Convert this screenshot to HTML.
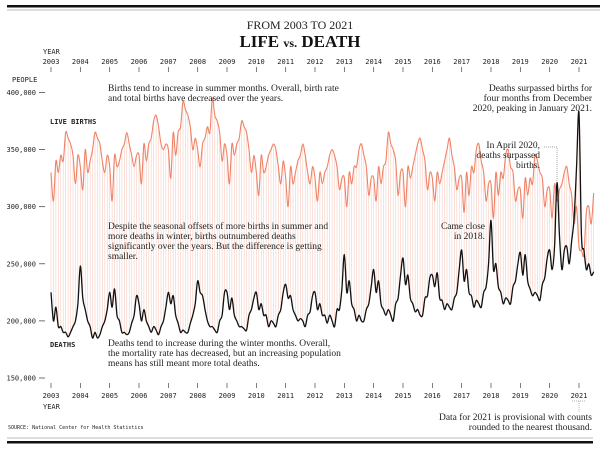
<!DOCTYPE html>
<html><head><meta charset="utf-8"><style>
body{margin:0;background:#fff;}
svg{display:block;}
.mono{font-family:"DejaVu Sans Mono","Liberation Mono",monospace;font-size:7px;fill:#222;}
.serif{font-family:"Liberation Serif",serif;font-size:9.5px;fill:#222;}
</style></head><body>
<svg id="chart" width="600" height="449" viewBox="0 0 600 449" xmlns="http://www.w3.org/2000/svg">
<rect x="0" y="0" width="600" height="449" fill="#fff"/>
<rect x="7" y="5" width="593" height="2.5" fill="#111"/>
<rect x="7" y="9.5" width="593" height="1" fill="#bbb"/>
<rect x="7" y="437.5" width="586" height="1" fill="#bbb"/>
<rect x="7" y="441" width="586" height="2.5" fill="#111"/>
<text x="300" y="29" text-anchor="middle" style="font-family:'Liberation Serif',serif;font-size:12px;fill:#222">FROM 2003 TO 2021</text>
<text x="300" y="47" text-anchor="middle" style="font-family:'Liberation Serif',serif;font-size:17px;font-weight:bold;fill:#111">LIFE <tspan style="font-size:12px">vs.</tspan> DEATH</text>
<text class="mono" x="43" y="54">YEAR</text>
<text class="mono" x="43" y="409">YEAR</text>
<text class="mono" x="12" y="82">PEOPLE</text>
<text class="mono" x="50" y="124" style="font-weight:bold">LIVE BIRTHS</text>
<text class="mono" x="50" y="347" style="font-weight:bold">DEATHS</text>
<g id="plot"></g>
<g class="serif"><text x="108" y="91">Births tend to increase in summer months. Overall, birth rate</text><text x="108" y="101">and total births have decreased over the years.</text></g>
<g class="serif"><text x="108" y="229">Despite the seasonal offsets of more births in summer and</text><text x="108" y="239">more deaths in winter, births outnumbered deaths</text><text x="108" y="249">significantly over the years. But the difference is getting</text><text x="108" y="259">smaller.</text></g>
<g class="serif"><text x="108" y="346">Deaths tend to increase during the winter months. Overall,</text><text x="108" y="356">the mortality rate has decreased, but an increasing population</text><text x="108" y="366">means has still meant more total deaths.</text></g>
<g class="serif" text-anchor="end"><text x="592" y="91">Deaths surpassed births for</text><text x="592" y="101">four months from December</text><text x="592" y="111">2020, peaking in January 2021.</text></g>
<g class="serif" text-anchor="end"><text x="540" y="148">In April 2020,</text><text x="540" y="158">deaths surpassed</text><text x="540" y="168">births.</text></g>
<path d="M544,147 H557 V182" stroke="#888" stroke-width="0.7" stroke-dasharray="1,1" fill="none"/>
<g class="serif" text-anchor="end"><text x="485" y="229">Came close</text><text x="485" y="239">in 2018.</text></g>
<g class="serif" text-anchor="end"><text x="592" y="420">Data for 2021 is provisional with counts</text><text x="592" y="430">rounded to the nearest thousand.</text></g>
<path d="M572,401 H586 M579,401 V412" stroke="#999" stroke-width="0.7" stroke-dasharray="1,1" fill="none"/>
<text class="mono" x="8" y="429" style="font-size:5px">SOURCE: National Center for Health Statistics</text>
</svg>
<script>
// values in thousands, monthly Jan 2003 ..
const years = [2003,2004,2005,2006,2007,2008,2009,2010,2011,2012,2013,2014,2015,2016,2017,2018,2019,2020,2021];
const yTicks = [400000,350000,300000,250000,200000,150000];
const births = [
330,305,340,330,345,340,365,360,355,345,320,345,
335,315,350,330,340,350,365,360,355,340,330,345,
335,305,345,335,340,350,355,365,355,345,335,345,
345,320,355,340,355,360,375,380,370,355,350,355,
350,325,365,345,365,370,392,385,380,370,350,360,
350,335,355,360,370,365,395,380,375,365,340,355,
345,320,355,345,355,360,375,370,365,350,330,345,
330,310,345,330,335,345,350,355,350,335,320,340,
325,300,335,320,330,340,345,355,345,330,320,335,
325,305,330,320,330,335,345,350,345,335,315,325,
325,300,330,320,335,335,350,355,345,335,310,325,
325,305,335,320,335,340,365,355,350,340,310,330,
330,300,335,325,335,345,355,360,350,340,315,330,
325,305,330,320,330,340,350,360,345,335,315,325,
325,295,330,310,335,330,350,355,340,330,305,320,
320,290,330,310,330,325,345,350,335,330,305,315,
315,290,325,310,325,320,345,340,330,325,300,315,
315,290,320,305,315,320,330,335,320,310,285,300,
265,262,258,295,300,285,312];
const deaths = [
225,200,212,195,195,190,190,186,190,195,200,215,
248,220,210,200,195,185,190,185,188,195,200,210,
225,212,228,205,200,190,190,188,190,198,205,222,
215,200,210,200,195,190,195,192,188,195,200,212,
225,215,222,205,198,190,192,190,190,198,205,215,
235,225,222,210,200,195,195,192,190,200,205,225,
225,210,220,205,200,195,195,193,192,205,210,220,
225,210,215,205,205,195,200,198,195,205,210,225,
232,220,222,210,205,200,202,200,195,205,208,222,
225,210,215,205,205,198,205,200,195,210,210,228,
258,225,235,215,210,200,205,200,200,210,215,230,
245,225,235,215,210,205,210,205,200,215,220,240,
255,232,240,220,215,208,210,205,205,220,222,238,
240,230,242,220,218,210,215,212,210,220,225,245,
262,235,245,225,222,212,218,215,212,225,230,250,
288,245,250,230,225,215,220,218,215,230,235,250,
260,240,258,235,228,222,225,222,218,232,238,255,
262,245,265,321,275,245,262,265,250,270,290,335,
382,275,262,245,250,240,243];
const x0=51, xStep=(579-51)/216;
const xScale = i => x0 + i*xStep;
const yScale = v => 92.5 + (400000 - v)/50000*57.1;
const NS='http://www.w3.org/2000/svg';
const plot=document.getElementById('plot');
function mk(tag,attrs,parent){const e=document.createElementNS(NS,tag);for(const k in attrs)e.setAttribute(k,attrs[k]);(parent||plot).appendChild(e);return e;}
yTicks.forEach(v=>{
  const t=mk('text',{x:36,y:yScale(v)+2.5,'text-anchor':'end',class:'mono'});
  
  
  t.textContent=v.toLocaleString('en-US');
  const l=mk('line',{x1:39,x2:45,y1:yScale(v),y2:yScale(v),stroke:'#333','stroke-width':0.7});
  
  
});
years.forEach((yr,k)=>{
  const x=xScale(k*12);
  [[64,67,72],[398,383,388]].forEach(([ty,a,b])=>{
    const t=mk('text',{x:x,y:ty,'text-anchor':'middle',class:'mono'});
    
    
    t.textContent=yr;
    const l=mk('line',{x1:x,x2:x,y1:a,y2:b,stroke:'#444','stroke-width':0.7});
    
    
  });
});
births.forEach((b,i)=>{
  const d=deaths[i]; if(d===undefined)return;
  const l=mk('line',{x1:xScale(i),x2:xScale(i),y1:yScale(b*1000),y2:yScale(d*1000),stroke:'#f5b8a8','stroke-width':0.6,opacity:0.7});
  
  
});
function smooth(arr){
  const p=arr.map((v,i)=>[xScale(i),yScale(v*1000)]);
  let d='M'+p[0][0]+','+p[0][1];
  for(let i=0;i<p.length-1;i++){
    const a=p[i-1]||p[i],b=p[i],c=p[i+1],e=p[i+2]||c;
    d+=' C'+(b[0]+(c[0]-a[0])/6)+','+(b[1]+(c[1]-a[1])/6)+' '+(c[0]-(e[0]-b[0])/6)+','+(c[1]-(e[1]-b[1])/6)+' '+c[0]+','+c[1];
  }
  return d;
}
const bl=mk('path',{d:smooth(births),fill:'none',stroke:'#f08367','stroke-width':1.1,'stroke-linejoin':'round'});


const dl=mk('path',{d:smooth(deaths),fill:'none',stroke:'#111','stroke-width':1.3,'stroke-linejoin':'round'});


</script>
</body></html>
